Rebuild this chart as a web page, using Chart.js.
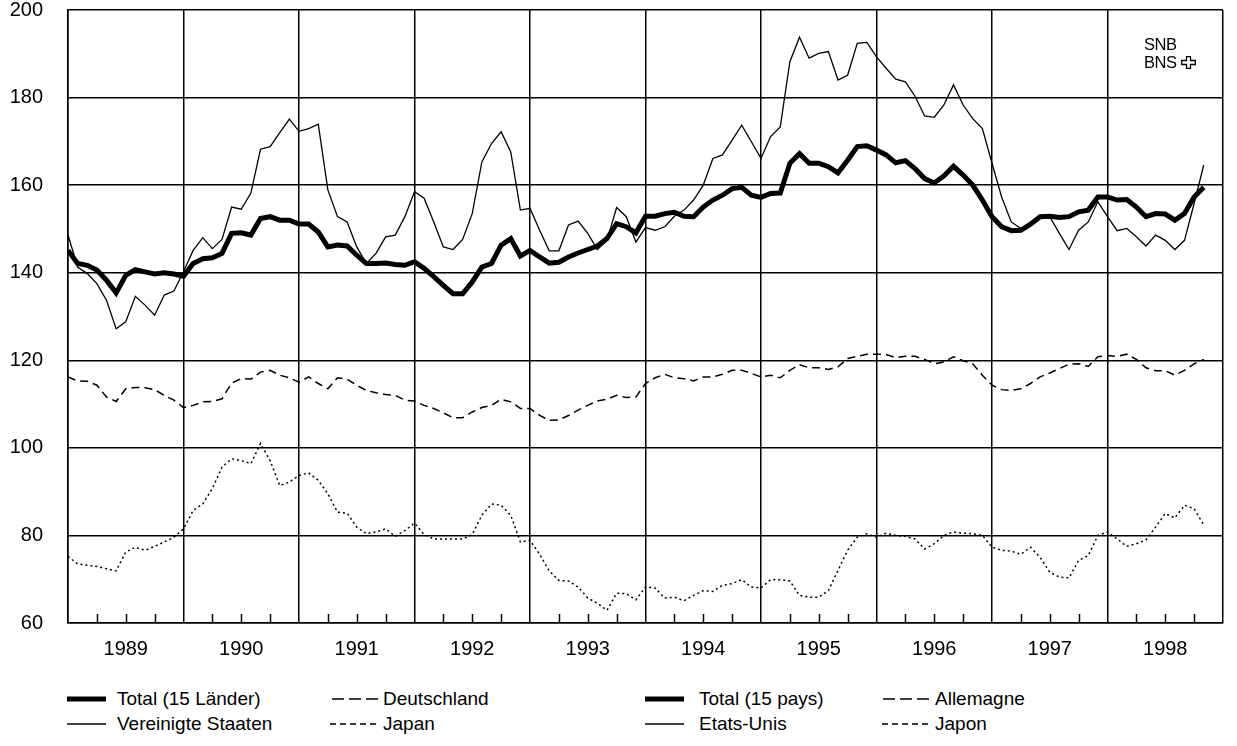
<!DOCTYPE html>
<html>
<head>
<meta charset="utf-8">
<script src="https://cdn.jsdelivr.net/npm/chart.js@4.4.1/dist/chart.umd.min.js"></script>
<style>
    body { margin: 0; background: #fff; font-family: 'Liberation Sans', Arial, sans-serif; color: #000; }
    #wrap { position: relative; width: 1237px; height: 746px; overflow: hidden; }
    #chart { position: absolute; left: 0; top: 0; }
    .logo { position: absolute; left: 1144px; font-size: 16.5px; line-height: 18px; letter-spacing: -0.5px; }
    .leg { position: absolute; font-size: 19px; line-height: 19px; white-space: nowrap; }
    .sym { position: absolute; }
</style>
</head>
<body>
<div id="wrap">
    <canvas id="chart" width="1237" height="680"></canvas>

    <div class="logo" style="top:35px">SNB</div>
    <div class="logo" style="top:53px">BNS
        <svg width="15" height="13" viewBox="0 0 15 13" style="vertical-align:-1px">
            <path d="M5.5 0.7 H9.5 V4.5 H14.3 V8.5 H9.5 V12.3 H5.5 V8.5 H0.7 V4.5 H5.5 Z" fill="none" stroke="#000" stroke-width="1.3"/>
        </svg>
    </div>

    <!-- Legend, German -->
    <svg class="sym" style="left:67px;top:695px" width="40" height="8"><line x1="0" y1="4" x2="39" y2="4" stroke="#000" stroke-width="5"/></svg>
    <div class="leg" style="left:117px;top:689px">Total (15 Länder)</div>
    <svg class="sym" style="left:67px;top:720px" width="40" height="8"><line x1="0" y1="4" x2="39" y2="4" stroke="#000" stroke-width="1.4"/></svg>
    <div class="leg" style="left:117px;top:714px">Vereinigte Staaten</div>
    <svg class="sym" style="left:332px;top:695px" width="48" height="8"><line x1="0" y1="4" x2="46" y2="4" stroke="#000" stroke-width="1.5" stroke-dasharray="12 5"/></svg>
    <div class="leg" style="left:383px;top:689px">Deutschland</div>
    <svg class="sym" style="left:330px;top:720px" width="50" height="8"><line x1="0" y1="4" x2="49" y2="4" stroke="#000" stroke-width="1.4" stroke-dasharray="6 4"/></svg>
    <div class="leg" style="left:383px;top:714px">Japan</div>

    <!-- Legend, French -->
    <svg class="sym" style="left:645px;top:695px" width="40" height="8"><line x1="0" y1="4" x2="39" y2="4" stroke="#000" stroke-width="5"/></svg>
    <div class="leg" style="left:699px;top:689px">Total (15 pays)</div>
    <svg class="sym" style="left:645px;top:720px" width="40" height="8"><line x1="0" y1="4" x2="39" y2="4" stroke="#000" stroke-width="1.4"/></svg>
    <div class="leg" style="left:699px;top:714px">Etats-Unis</div>
    <svg class="sym" style="left:883px;top:695px" width="48" height="8"><line x1="0" y1="4" x2="46" y2="4" stroke="#000" stroke-width="1.5" stroke-dasharray="12 5"/></svg>
    <div class="leg" style="left:935px;top:689px">Allemagne</div>
    <svg class="sym" style="left:882px;top:720px" width="50" height="8"><line x1="0" y1="4" x2="49" y2="4" stroke="#000" stroke-width="1.4" stroke-dasharray="6 4"/></svg>
    <div class="leg" style="left:935px;top:714px">Japon</div>
</div>

<script>
// Monthly index values, Jan 1989 .. Nov 1998
const years = ['1989', '1990', '1991', '1992', '1993', '1994', '1995', '1996', '1997', '1998'];

const total = [145.1, 142.1, 141.7, 140.6, 138.3, 135.4, 139.4, 140.7, 140.2, 139.7, 140.0, 139.7, 139.2,
    142.1, 143.2, 143.4, 144.4, 149.0, 149.1, 148.6, 152.4, 152.8, 152.0, 152.0, 151.1,
    151.1, 149.3, 145.9, 146.3, 146.1, 144.0, 142.1, 142.1, 142.2, 141.9, 141.7, 142.5,
    141.0, 139.1, 137.1, 135.2, 135.2, 137.9, 141.3, 142.1, 146.3, 147.8, 143.8, 145.1,
    143.6, 142.2, 142.4, 143.6, 144.5, 145.3, 146.1, 147.8, 151.2, 150.5, 149.1, 152.9,
    152.9, 153.5, 153.8, 152.9, 152.8, 155.0, 156.6, 157.7, 159.2, 159.5, 157.7, 157.2,
    158.1, 158.2, 165.0, 167.2, 165.0, 165.0, 164.2, 162.8, 165.7, 168.8, 169.0, 168.0,
    166.9, 165.1, 165.6, 163.8, 161.5, 160.5, 162.1, 164.3, 162.3, 160.0, 156.6, 152.8,
    150.5, 149.6, 149.7, 151.1, 152.8, 152.9, 152.6, 152.8, 153.9, 154.3, 157.3, 157.3,
    156.6, 156.7, 155.0, 152.8, 153.5, 153.4, 152.0, 153.5, 157.3, 159.5];

const usa = [148.6, 141.3, 139.8, 137.5, 133.7, 127.2, 128.8, 134.6, 132.6, 130.3, 134.9, 135.8, 140.2,
    145.1, 148.0, 145.5, 147.6, 155.0, 154.5, 158.2, 168.2, 168.8, 172.0, 175.1, 172.3,
    172.9, 173.9, 158.9, 152.8, 151.6, 145.9, 142.1, 144.4, 148.2, 148.6, 152.8, 158.5,
    157.0, 151.6, 145.9, 145.3, 147.6, 153.5, 165.3, 169.5, 172.2, 167.6, 154.3, 154.7,
    149.7, 145.0, 145.0, 150.9, 151.8, 149.0, 145.3, 147.4, 154.9, 152.8, 147.0, 150.3,
    149.7, 150.5, 152.9, 154.3, 156.6, 160.0, 166.1, 166.9, 170.3, 173.7, 169.9, 166.1,
    171.1, 173.3, 188.2, 193.8, 189.0, 190.1, 190.5, 184.0, 185.1, 192.4, 192.6, 189.3,
    186.7, 184.2, 183.6, 180.3, 175.8, 175.5, 178.3, 182.9, 178.3, 175.2, 172.9, 165.0,
    157.3, 151.6, 150.1, 151.1, 152.8, 152.8, 149.0, 145.3, 149.7, 151.6, 156.2, 152.8,
    149.6, 150.1, 148.2, 146.1, 148.6, 147.4, 145.3, 147.4, 155.8, 164.6];

const germany = [116.2, 115.3, 115.2, 114.3, 111.6, 110.6, 113.5, 113.8, 113.7, 113.3, 112.0, 110.9, 109.2,
    109.7, 110.5, 110.6, 111.2, 114.8, 115.8, 115.7, 117.3, 117.7, 116.6, 116.0, 115.0,
    116.2, 114.7, 113.5, 116.0, 115.7, 114.3, 113.1, 112.6, 112.2, 112.0, 110.9, 110.7,
    109.7, 109.0, 108.0, 106.9, 106.9, 108.2, 109.2, 109.7, 111.1, 110.5, 109.0, 109.0,
    107.4, 106.3, 106.4, 107.4, 108.6, 109.7, 110.7, 111.1, 112.0, 111.5, 111.6, 114.7,
    116.0, 116.8, 116.0, 115.8, 115.3, 116.2, 116.2, 116.8, 117.7, 117.7, 117.0, 116.2,
    116.6, 116.0, 117.7, 119.0, 118.3, 118.3, 117.9, 118.5, 120.4, 120.9, 121.4, 121.4,
    121.3, 120.6, 120.9, 120.9, 120.2, 119.2, 119.6, 120.8, 119.9, 119.2, 116.6, 114.3,
    113.3, 113.1, 113.5, 114.7, 116.2, 117.1, 118.1, 119.1, 119.2, 118.6, 120.8, 121.1,
    120.9, 121.4, 120.2, 118.3, 117.6, 117.6, 116.6, 117.7, 119.2, 120.2];

const japan = [75.2, 73.5, 73.2, 72.9, 72.4, 71.9, 76.2, 77.3, 76.6, 77.5, 78.5, 79.6, 81.5,
    85.7, 87.2, 90.7, 95.6, 97.5, 97.1, 96.4, 101.0, 97.1, 91.4, 92.2, 93.7,
    94.3, 92.6, 89.5, 85.3, 85.1, 81.9, 80.4, 80.8, 81.5, 79.8, 81.1, 82.8,
    80.2, 79.2, 79.2, 79.2, 79.2, 80.2, 84.6, 87.2, 86.9, 84.6, 78.5, 78.9,
    75.7, 71.9, 69.7, 69.6, 68.2, 65.7, 64.5, 62.9, 66.8, 66.7, 65.3, 68.2,
    68.0, 65.7, 65.9, 65.1, 66.3, 67.4, 67.2, 68.6, 69.0, 69.9, 68.2, 68.0,
    69.9, 69.9, 69.6, 66.3, 65.9, 65.9, 67.4, 72.0, 76.6, 79.6, 80.4, 79.6,
    80.5, 80.0, 79.8, 79.2, 76.9, 78.1, 80.0, 80.8, 80.5, 80.4, 80.0, 77.3,
    76.6, 76.4, 75.7, 77.3, 75.0, 71.6, 70.5, 70.3, 74.3, 75.4, 80.0, 80.8,
    79.2, 77.5, 78.1, 79.0, 81.9, 85.0, 84.0, 86.9, 86.1, 82.4];

// x axis: months since Jan 1989, ticks every quarter
const quarterTicks = Array.from({ length: 41 }, (_, i) => i * 3);

Chart.defaults.font.family = "'Liberation Sans', Arial, sans-serif";
Chart.defaults.color = '#000';

// series -> {x: month, y: value}
function toPoints(arr) {
    return arr.map((v, i) => ({ x: i, y: v }));
}

function lineSet(label, arr, width, dash) {
    return {
        label: label,
        data: toPoints(arr),
        borderColor: '#000',
        borderWidth: width,
        borderDash: dash,
        pointRadius: 0,
        tension: 0,
        fill: false
    };
}

// short inner tick marks for each quarter
const quarterMarks = {
    id: 'quarterMarks',
    afterDraw(chart) {
        const xs = chart.scales.x;
        const bottom = chart.chartArea.bottom;
        const ctx = chart.ctx;
        ctx.save();
        ctx.strokeStyle = '#000';
        ctx.lineWidth = 1.5;
        quarterTicks.forEach(v => {
            if (v % 12 === 0) return;
            const px = Math.round(xs.getPixelForValue(v)) + 0.5;
            ctx.beginPath();
            ctx.moveTo(px, bottom);
            ctx.lineTo(px, bottom - 9);
            ctx.stroke();
        });
        ctx.restore();
    }
};

new Chart(document.getElementById('chart'), {
    type: 'line',
    data: {
        datasets: [
            lineSet('Japan', japan, 1.5, [2, 3]),
            lineSet('Deutschland', germany, 1.5, [8, 5]),
            lineSet('Vereinigte Staaten', usa, 1.3, []),
            lineSet('Total (15 Länder)', total, 5, [])
        ]
    },
    options: {
        responsive: false,
        animation: false,
        layout: { padding: { top: 10, right: 11, left: 0, bottom: 0 } },
        plugins: {
            legend: { display: false },
            tooltip: { enabled: false }
        },
        scales: {
            x: {
                type: 'linear',
                min: 0,
                max: 120,
                afterBuildTicks: (scale) => {
                    scale.ticks = quarterTicks.map(v => ({ value: v }));
                },
                afterFit: (scale) => { scale.height = 57; },
                grid: {
                    color: (c) => (c.tick && c.tick.value % 12 === 0) ? '#000' : 'rgba(0,0,0,0)',
                    lineWidth: 1.5,
                    drawTicks: false
                },
                border: { color: '#000', width: 1.5 },
                ticks: {
                    autoSkip: false,
                    maxRotation: 0,
                    minRotation: 0,
                    padding: 14,
                    font: { size: 20 },
                    callback: (v) => v % 12 === 6 ? years[(v - 6) / 12] : ''
                }
            },
            y: {
                min: 60,
                max: 200,
                afterFit: (scale) => {
                    scale.width = 68;
                    // tick padding should not push the plot down
                    scale.paddingTop = 0;
                    scale.paddingBottom = 0;
                },
                ticks: {
                    stepSize: 20,
                    padding: 25,
                    font: { size: 20, lineHeight: 1 }
                },
                grid: { color: '#000', lineWidth: 1.5, drawTicks: false },
                border: { color: '#000', width: 1.5 }
            }
        }
    },
    plugins: [quarterMarks]
});
</script>
</body>
</html>
